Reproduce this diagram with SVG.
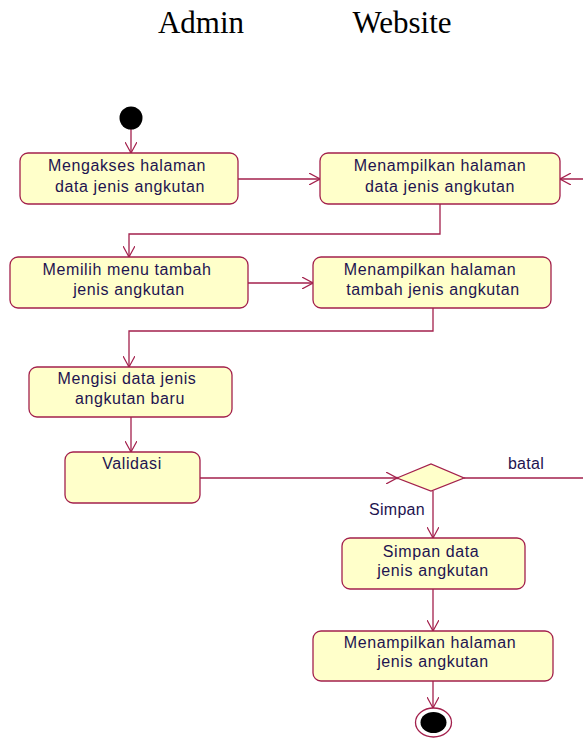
<svg xmlns="http://www.w3.org/2000/svg" width="583" height="740" viewBox="0 0 583 740">
<style>
.box{fill:#ffffca;stroke:#a3204c;stroke-width:1.3}
.t{font-family:"Liberation Sans",Arial,sans-serif;font-size:16px;letter-spacing:0.6px;fill:#1e1450;text-anchor:middle}
.h{font-family:"Liberation Serif","Times New Roman",serif;font-size:31px;fill:#000;text-anchor:middle}
.c{fill:none;stroke:#a3204c;stroke-width:1.3}
</style>
<defs>
<marker id="ar" viewBox="0 0 12 12" refX="11" refY="6" markerWidth="12" markerHeight="12" markerUnits="userSpaceOnUse" orient="auto">
<path d="M0,0 L11,6 L0,12" fill="none" stroke="#a3204c" stroke-width="1.2"/>
<circle cx="11" cy="6" r="1.3" fill="#a3204c"/>
</marker>
</defs>
<rect width="583" height="740" fill="#fff"/>
<text class="h" x="201" y="33">Admin</text>
<text class="h" x="402" y="33">Website</text>

<g id="connectors">
<path class="c" d="M131,129 V153" marker-end="url(#ar)"/>
<path class="c" d="M238,179 H320" marker-end="url(#ar)"/>
<path class="c" d="M440,204 V234 H129 V257" marker-end="url(#ar)"/>
<path class="c" d="M248,283 H313" marker-end="url(#ar)"/>
<path class="c" d="M433,308 V331 H129 V367" marker-end="url(#ar)"/>
<path class="c" d="M131,417 V452" marker-end="url(#ar)"/>
<path class="c" d="M200,478 H397" marker-end="url(#ar)"/>
<path class="c" d="M464,478 H600 V179 H560" marker-end="url(#ar)"/>
<path class="c" d="M433,491 V538" marker-end="url(#ar)"/>
<path class="c" d="M433,589 V631" marker-end="url(#ar)"/>
<path class="c" d="M433,681 V708" marker-end="url(#ar)"/>
<text class="t" x="526" y="469" style="letter-spacing:0.3px">batal</text>
<text class="t" x="397" y="515" style="letter-spacing:0.3px">Simpan</text>
</g>

<g id="start"><circle cx="131" cy="118" r="11.5" fill="#000"/></g>

<g id="n1"><rect class="box" x="20" y="153" width="218" height="51" rx="8"/>
<text class="t" x="127" y="171">Mengakses halaman</text><text class="t" x="130" y="192">data jenis angkutan</text></g>

<g id="n2"><rect class="box" x="320" y="153" width="240" height="51" rx="8"/>
<text class="t" x="440" y="171">Menampilkan halaman</text><text class="t" x="440" y="192">data jenis angkutan</text></g>

<g id="n3"><rect class="box" x="10" y="257" width="238" height="51" rx="8"/>
<text class="t" x="127" y="275">Memilih menu tambah</text><text class="t" x="129" y="295">jenis angkutan</text></g>

<g id="n4"><rect class="box" x="313" y="257" width="238" height="51" rx="8"/>
<text class="t" x="430" y="275">Menampilkan halaman</text><text class="t" x="433" y="295">tambah jenis angkutan</text></g>

<g id="n5"><rect class="box" x="29" y="367" width="203" height="50" rx="8"/>
<text class="t" x="127" y="384">Mengisi data jenis</text><text class="t" x="130" y="404">angkutan baru</text></g>

<g id="n6"><rect class="box" x="65" y="452" width="135" height="51" rx="8"/>
<text class="t" x="132" y="469">Validasi</text></g>

<g id="decision"><path class="box" d="M397,478 L431,464 L464,478 L431,491 Z"/></g>

<g id="n7"><rect class="box" x="342" y="538" width="183" height="51" rx="8"/>
<text class="t" x="431" y="557">Simpan data</text><text class="t" x="433" y="576">jenis angkutan</text></g>

<g id="n8"><rect class="box" x="313" y="631" width="240" height="50" rx="8"/>
<text class="t" x="430" y="648">Menampilkan halaman</text><text class="t" x="433" y="667">jenis angkutan</text></g>

<g id="end"><ellipse cx="433.5" cy="722.5" rx="18" ry="14.5" fill="#fff" stroke="#a3204c" stroke-width="1.3"/>
<ellipse cx="433.5" cy="722.5" rx="13" ry="10.5" fill="#000"/></g>
</svg>
